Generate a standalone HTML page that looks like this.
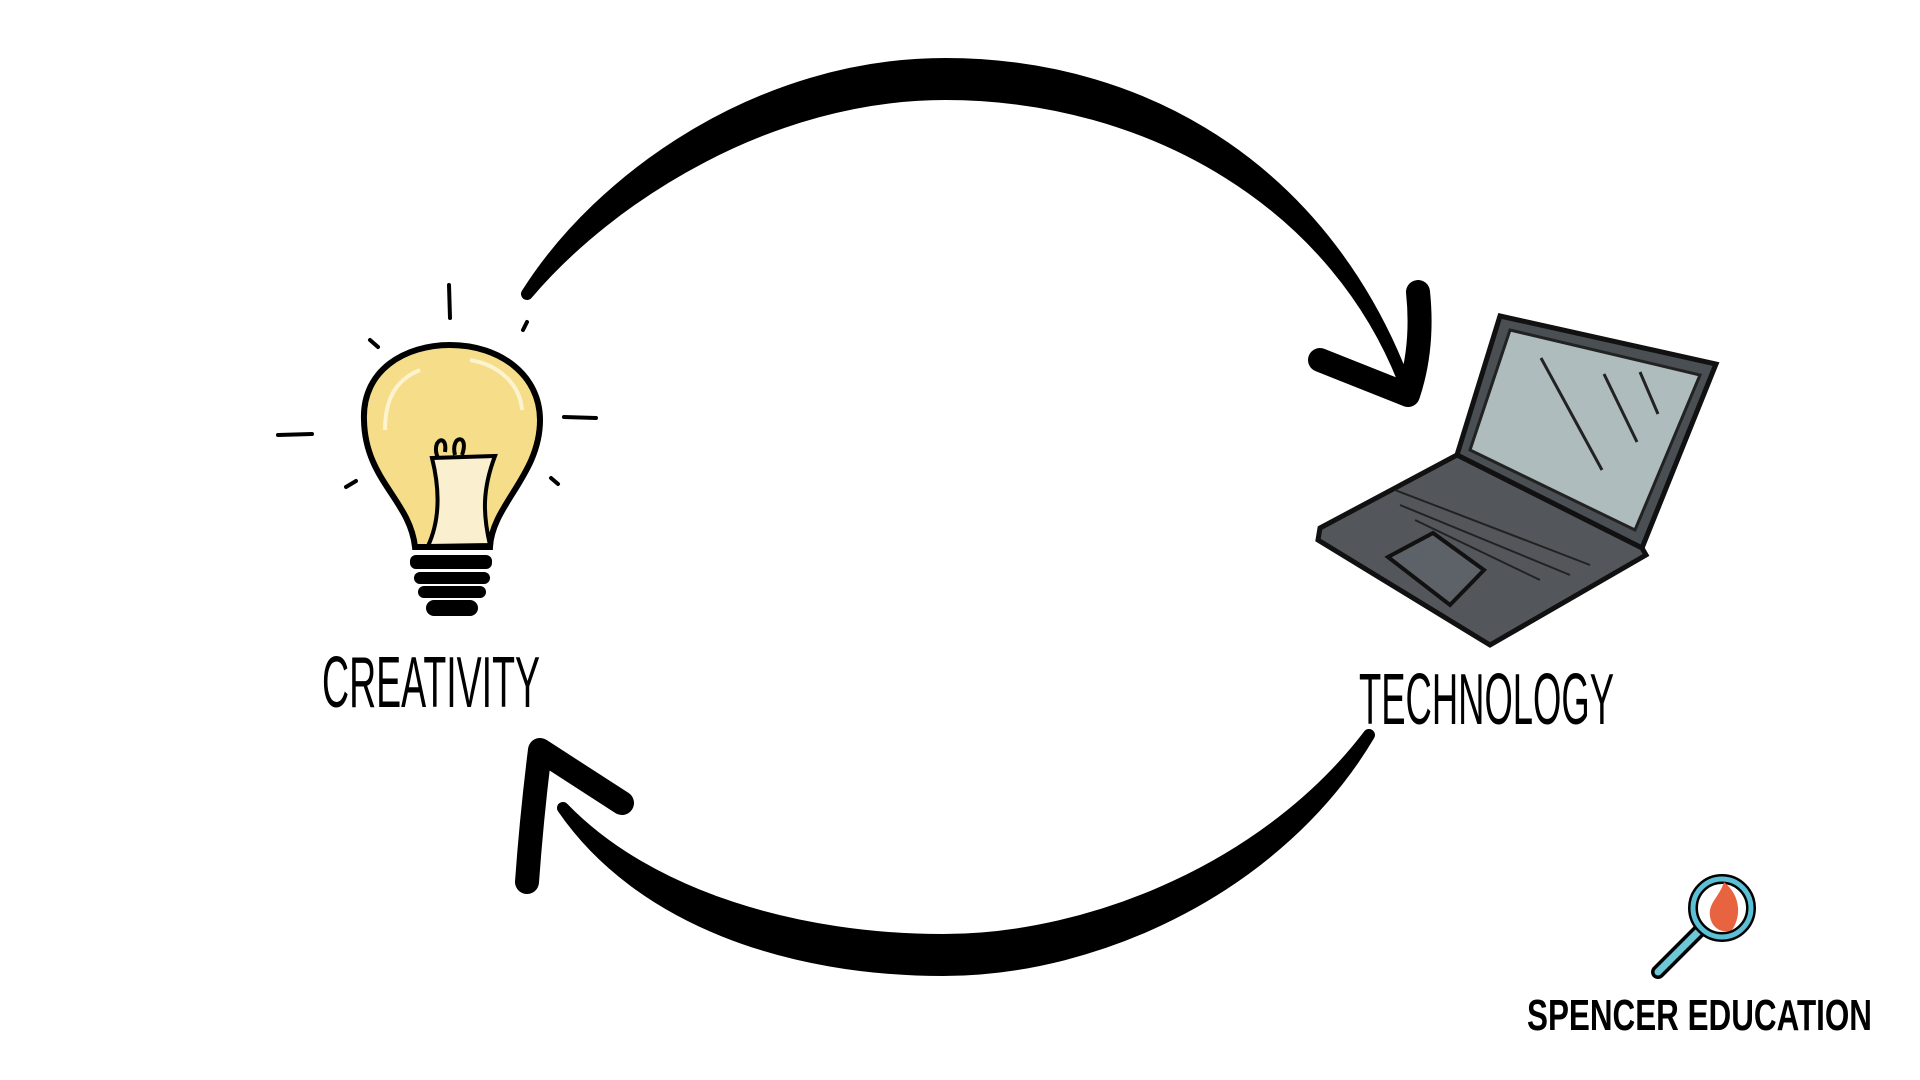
<!DOCTYPE html>
<html><head><meta charset="utf-8"><style>
html,body{margin:0;padding:0;background:#fff;width:1920px;height:1080px;overflow:hidden}
svg{display:block}
</style></head><body>
<svg width="1920" height="1080" viewBox="0 0 1920 1080" xmlns="http://www.w3.org/2000/svg">
<g stroke="#000" stroke-linecap="round" stroke-linejoin="round">
  <path d="M527 294 C600 178 760 64 945 64 C1150 64 1330 176 1408 392 C1340 204 1150 94 945 94 C770 94 610 196 527 294 Z" fill="#000" stroke-width="12"/>
  <path d="M1418 292 C1422 330 1418 365 1408 395 L1320 360" fill="none" stroke-width="24"/>
  <path d="M1369 735 C1280 885 1100 970 943 970 C790 970 640 920 563 808 C650 898 800 940 943 940 C1095 940 1270 865 1369 735 Z" fill="#000" stroke-width="12"/>
  <path d="M527 882 C530 840 535 790 540 750 L622 803" fill="none" stroke-width="24"/>
  <g stroke-width="4" fill="none">
    <line x1="449" y1="285" x2="450" y2="318"/>
    <line x1="370" y1="340" x2="378" y2="347"/>
    <line x1="527" y1="322" x2="523" y2="330"/>
    <line x1="278" y1="435" x2="312" y2="434"/>
    <line x1="564" y1="417" x2="596" y2="418"/>
    <line x1="346" y1="487" x2="356" y2="481"/>
    <line x1="551" y1="478" x2="558" y2="484"/>
  </g>
</g>
<path d="M415 547 C410 500 365 480 364 420 C362 370 405 345 450 345 C500 345 540 375 540 420 C540 475 492 505 490 547 Z" fill="#f5dd8a" stroke="#000" stroke-width="6"/>
<path d="M432 458 L495 456 C482 490 483 515 490 545 L428 546 C440 520 440 490 432 458Z" fill="#faf0d0" stroke="#000" stroke-width="4"/>
<path d="M438 458 C430 440 448 432 445 452 M455 455 C450 435 470 433 462 455" fill="none" stroke="#000" stroke-width="4"/>
<path d="M385 430 C385 400 395 380 420 370" stroke="#fdf3cf" stroke-width="4" fill="none"/>
<path d="M470 360 C500 365 520 385 522 410" stroke="#fdf3cf" stroke-width="4" fill="none"/>
<g fill="#000">
  <rect x="410" y="555" width="82" height="14" rx="6"/>
  <rect x="414" y="572" width="76" height="12" rx="6"/>
  <rect x="418" y="586" width="68" height="12" rx="6"/>
  <rect x="426" y="600" width="52" height="16" rx="8"/>
</g>
<polygon points="1500,316 1716,364 1642,548 1457,455" fill="#4a4f53" stroke="#111" stroke-width="5"/>
<polygon points="1510,330 1700,375 1635,530 1470,450" fill="#aebcbe" stroke="#222" stroke-width="3"/>
<g stroke="#222" stroke-width="3"><line x1="1541" y1="358" x2="1602" y2="470"/><line x1="1604" y1="374" x2="1637" y2="442"/><line x1="1640" y1="372" x2="1658" y2="414"/></g>
<polygon points="1457,455 1642,548 1646,555 1490,645 1318,540 1320,528" fill="#53575c" stroke="#111" stroke-width="5"/>
<polygon points="1388,557 1433,533 1484,570 1450,605" fill="#5d6268" stroke="#111" stroke-width="4"/>
<g stroke="#222" stroke-width="2" fill="none">
  <path d="M1395 490 L1590 565 M1400 505 L1570 575 M1415 520 L1540 580"/>
</g>
<text x="322" y="707" font-family="Liberation Sans, sans-serif" font-size="72" textLength="218" lengthAdjust="spacingAndGlyphs" fill="#000">CREATIVITY</text>
<text x="1359" y="724" font-family="Liberation Sans, sans-serif" font-size="72" textLength="255" lengthAdjust="spacingAndGlyphs" fill="#000">TECHNOLOGY</text>
<line x1="1658" y1="972" x2="1700" y2="930" stroke="#000" stroke-width="14" stroke-linecap="round"/>
<line x1="1658" y1="972" x2="1700" y2="930" stroke="#6cc8d8" stroke-width="7" stroke-linecap="round"/>
<circle cx="1722" cy="908" r="29" fill="#fff" stroke="#000" stroke-width="10"/>
<circle cx="1722" cy="908" r="29" fill="none" stroke="#5bbfd5" stroke-width="5"/>
<path d="M1724 882 C1740 895 1742 915 1732 930 C1720 935 1708 925 1710 910 C1712 900 1720 895 1724 882Z" fill="#e8633f"/>
<text x="1527" y="1030" font-family="Liberation Sans, sans-serif" font-weight="bold" font-size="44" textLength="345" lengthAdjust="spacingAndGlyphs" fill="#000">SPENCER EDUCATION</text>
</svg>
</body></html>
